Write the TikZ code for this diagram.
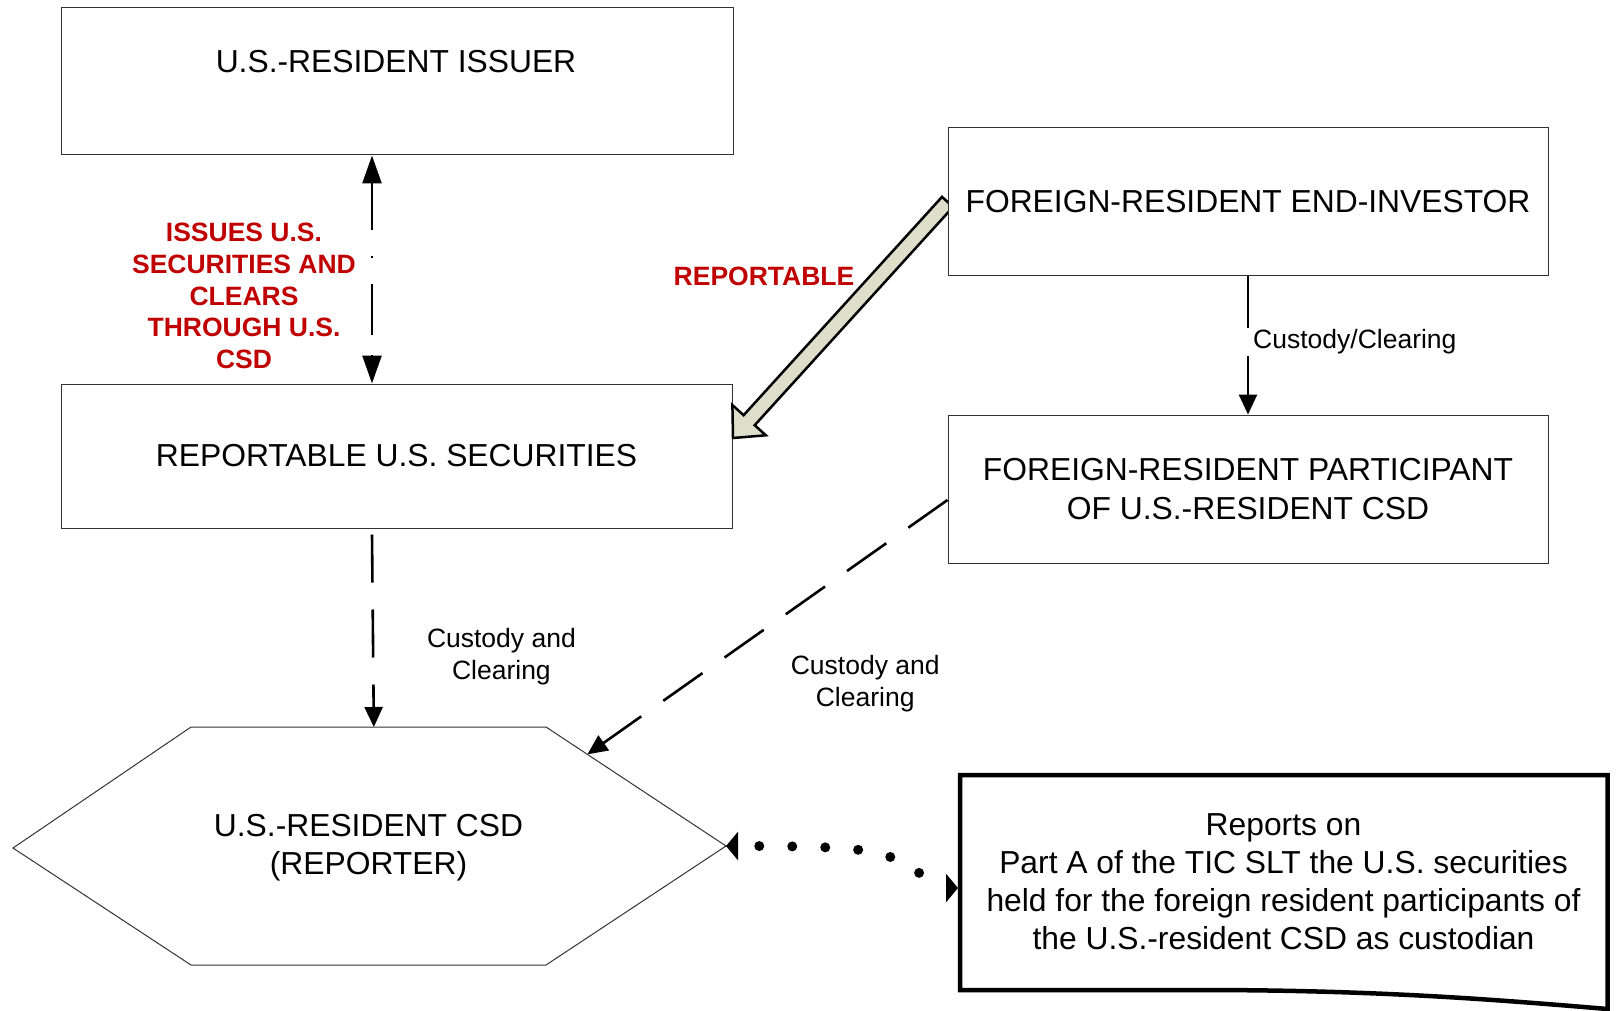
\documentclass[tikz,border=0pt]{standalone}
\usepackage{fontspec}
\setmainfont{Liberation Sans}
\usetikzlibrary{arrows.meta,calc}
\definecolor{lblred}{RGB}{192,0,0}
\definecolor{arrowfill}{RGB}{221,223,203}
\begin{document}
\begin{tikzpicture}[x=1pt,y=-1pt,
  box/.style={draw=black!80, line width=1pt, fill=white, inner sep=0pt,
              font=\fontsize{31.8}{38.1}\selectfont, align=center},
  maintext/.style={font=\fontsize{31.8}{38.1}\selectfont, align=center, inner sep=0pt},
  lbl/.style={font=\fontsize{26.5}{31.9}\selectfont, align=center, inner sep=0pt},
  redlbl/.style={font=\bfseries\fontsize{26.5}{31.95}\selectfont, text=lblred, align=center, inner sep=0pt},
  hexline/.style={draw=black!80, line width=1pt},
  conn/.style={line width=2.6pt, draw=black},
  smalltip/.style={-{Triangle[length=20pt,width=18pt]}},
  dashconn/.style={conn, smalltip, dash pattern=on 48pt off 27pt},
  dotconn/.style={line width=10pt, line cap=round, dash pattern=on 0pt off 33pt, dash phase=11pt,
                  {Triangle[length=12pt,width=28pt]}-{Triangle[length=12pt,width=28pt]}},
  blockarrow/.style={draw=black, line width=2.5pt, fill=arrowfill},
  docline/.style={draw=black, line width=4.5pt}
]
\useasboundingbox (0,0) rectangle (1616,1011);

% boxes on the left
\node[box, minimum width=672pt, minimum height=147pt] (issuer) at (397,81.5) {};
\node[maintext, anchor=base] (issuerT) at (396,72.2) {U.S.-RESIDENT ISSUER};
\node[box, minimum width=671pt, minimum height=144pt] (sec) at (396.5,456) {REPORTABLE U.S. SECURITIES};

% block arrow (reportable)
\draw[blockarrow] (733,438) -- (765.8,435.3) -- (754.7,425.2) -- (953.1,206.9)
  -- (942,196.9) -- (743.6,415.2) -- (732.4,405.1) -- cycle;

% boxes on the right
\node[box, minimum width=600pt, minimum height=147pt] (inv) at (1248,201.5) {FOREIGN-RESIDENT END-INVESTOR};
\node[box, minimum width=600pt, minimum height=148pt] (part) at (1248,489) {FOREIGN-RESIDENT PARTICIPANT\\OF U.S.-RESIDENT CSD};

% hexagon
\coordinate (hexL) at (13,848);
\coordinate (hexTL) at (191,727);
\coordinate (hexTR) at (546,727);
\coordinate (hexR) at (726,846);
\coordinate (hexBR) at (546,965);
\coordinate (hexBL) at (191,965);
\draw[hexline] (hexL) -- (hexTL) -- (hexTR) -- (hexR) -- (hexBR) -- (hexBL) -- cycle;
\node[maintext] (csd) at (368.5,847.7) {U.S.-RESIDENT CSD\\(REPORTER)};
\coordinate (hexIn) at ($(hexTL)!0.515!(hexTR)$);
\coordinate (hexIn2) at ($(hexTR)!0.23!(hexR)$);

% document shape
\draw[docline] (1607.5,1011) -- (1607.5,775) -- (960,775) -- (960,990) -- (1200,990)
  .. controls (1380,990) and (1500,1000) .. (1607.5,1009);
\node[maintext] (doc) at (1283.5,881.7) {Reports on\\ Part A of the TIC SLT the U.S. securities\\held for the foreign resident participants of\\the U.S.-resident CSD as custodian};
\coordinate (docL) at (958,888);

% connectors
\draw[conn, dash pattern=on 47pt off 26pt on 2pt off 26pt on 51pt off 20pt,
      {Triangle[length=28pt,width=19pt]}-{Triangle[length=28pt,width=19pt]}]
  ([xshift=-25pt]issuer.south) -- ([xshift=-24.5pt]sec.north);
\draw[dashconn] ([xshift=-24.5pt,yshift=-6pt]sec.south) -- (hexIn);
\draw[dashconn] ([yshift=-11pt]part.west) -- (hexIn2);
\draw[conn, smalltip] (inv.south) -- (part.north);
\draw[dotconn] (hexR) .. controls (860,846) and (880,850) .. (905,864)
  .. controls (925,876) and (940,888) .. (docL);

% labels
\node[redlbl] (issuesLbl) at (244,295.9) {ISSUES U.S.\\SECURITIES AND\\CLEARS\\THROUGH U.S.\\CSD};
\node[redlbl, anchor=base] (repLbl) at (764,285.5) {REPORTABLE};
\node[lbl, anchor=base west, fill=white, inner xsep=8pt, inner ysep=1.5pt] (ccLbl) at (1245,348.5) {Custody/Clearing};
\node[lbl] (cc1) at (501.4,656.6) {Custody and\\Clearing};
\node[lbl] (cc2) at (865.2,683.4) {Custody and\\Clearing};
\end{tikzpicture}
\end{document}
